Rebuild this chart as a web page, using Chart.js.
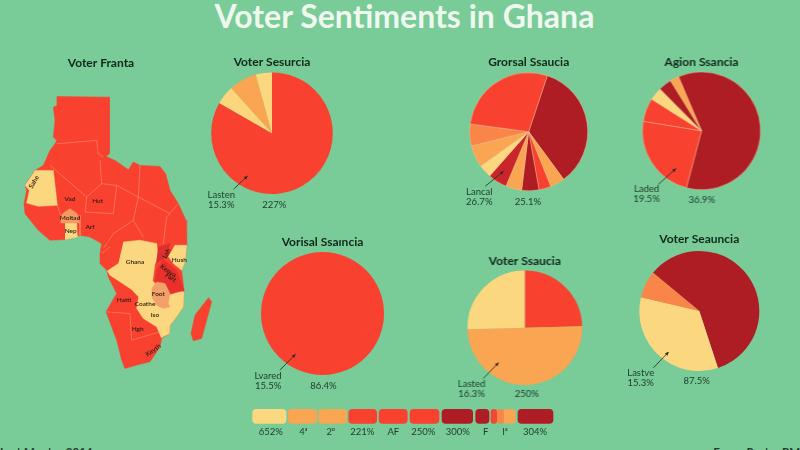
<!DOCTYPE html>
<html>
<head>
<meta charset="utf-8">
<title>Voter Sentiments in Ghana</title>
<script src="https://cdn.jsdelivr.net/npm/chart.js@4/dist/chart.umd.min.js"></script>
<style>
html, body { margin: 0; padding: 0; width: 800px; height: 450px; overflow: hidden; background: #79cb97; }
body { position: relative; font-family: Lato, "Open Sans", sans-serif; }
.box { position: absolute; }
#mainTitle { position: absolute; left: 0; width: 809px; top: -4px; text-align: center; font: 700 32px Lato, sans-serif; color: #eef8ef; white-space: nowrap; }
.foot { position: absolute; top: 445px; font: 700 11.5px Lato, sans-serif; color: #1b3d2b; white-space: nowrap; }
</style>
</head>
<body>
<div id="mainTitle">Voter Sentiments in Ghana</div>
<div class="foot" style="left:0">Last Montes 2014</div>
<div class="foot" style="right:0">Fanne Raster PM</div>
<script>
var yellow = '#fbd880', orange = '#faa552', coral = '#f98548', red = '#f94130', darkRed = '#ae1c24';
var ink = '#1d4030', titleInk = '#10281b';

// pie values, in percent
var pie1Values = [83.3, 5, 7.4, 4.3];
var pie2Values = [34.8, 4, 3.3, 4.7, 4.4, 5.2, 3.6, 6, 6, 28];
var pie3Values = [60.5, 23.5, 6.4, 3.6, 3.6, 2.4];
var pie4Values = [100];
var pie5Values = [24.6, 50, 25.4];
var pie6Values = [59, 33.7, 7.3];

var pie1Colors = [red, '#fbd67c', orange, yellow];
var pie2Colors = [darkRed, orange, red, darkRed, orange, '#c9252a', yellow, orange, coral, red];
var pie3Colors = [darkRed, red, red, yellow, darkRed, orange];
var pie4Colors = [red];
var pie5Colors = [red, orange, yellow];
var pie6Colors = [darkRed, yellow, coral];

var pieTitles = ['Voter Sesurcia', 'Grorsal Ssaucia', 'Agion Ssancia', 'Vorisal Ssaıncia', 'Voter Ssaucia', 'Voter Seauncia'];
var pieNames = ['Lasten', 'Lancal', 'Laded', 'Lvared', 'Lasted', 'Lastve'];
var pieShares = ['15.3%', '26.7%', '19.5%', '15.5%', '16.3%', '15.3%'];
var pieTotals = ['227%', '25.1%', '36.9%', '86.4%', '250%', '87.5%'];
var pieRotations = [0, 18.4, 337, 0, 0, 309.5];

// where each pie and its callout sit on the page
var pieLayout = [
    { cx: 271.7, cy: 133.5, r: 61, titleX: 271.7, titleY: 62.3, nameX: 221, nameY: 195.3, totalX: 274, totalY: 205.3, arrow: [233.3, 189.3, 247.3, 176] },
    { cx: 528.7, cy: 131.5, r: 59.3, titleX: 527, titleY: 62, nameX: 479, nameY: 191.7, totalX: 527.7, totalY: 201.7, arrow: [485, 186, 503.3, 171] },
    { cx: 701.7, cy: 130.8, r: 59.3, titleX: 700.7, titleY: 62, nameX: 646.7, nameY: 188.3, totalX: 701.7, totalY: 199.3, arrow: [658.3, 184.3, 676, 168.3] },
    { cx: 322.7, cy: 313.3, r: 61.5, titleX: 320.7, titleY: 242, nameX: 268.3, nameY: 376, totalX: 323.7, totalY: 385.3, arrow: [280, 370, 295.7, 354] },
    { cx: 525, cy: 327.7, r: 57.3, titleX: 525.7, titleY: 261, nameX: 471.7, nameY: 383.3, totalX: 526.7, totalY: 393.7, arrow: [483.3, 378.3, 498.7, 362.3] },
    { cx: 699.3, cy: 310.8, r: 60, titleX: 697, titleY: 239, nameX: 640.7, nameY: 372.7, totalX: 696.7, totalY: 381, arrow: [653.3, 367.7, 668.7, 351.7] }
];

// legend strip: each swatch runs from start to end along the strip
var legendStarts = [22.7, 58.3, 88.7, 118.7, 149, 180, 212, 245.7, 261, 267.3, 273.5, 288];
var legendEnds = [56, 86.7, 116.7, 146.7, 177.3, 209, 242.7, 259, 266.7, 273.5, 285.3, 323];
var legendColors = [yellow, orange, orange, red, red, red, darkRed, darkRed, '#ee4a33', coral, orange, darkRed];
var legendLabels = ['652%', '4ᵃ', '2ᵖ', '221%', 'AF', '250%', '300%', 'F', 'Iᵃ', '304%'];
var legendTickAt = [40.7, 73.3, 100.7, 132.3, 163.3, 193.3, 227.7, 255.7, 275, 305];

// map regions
var mainland = [[170,168],[328,170],[328,340],[318,348],[345,360],[385,388],[400,365],[420,375],[480,378],[497,400],[510,450],[535,490],[558,540],[560,615],[555,665],[545,690],[552,750],[550,800],[530,830],[510,855],[508,880],[485,895],[480,920],[450,965],[410,975],[375,985],[365,960],[350,900],[318,815],[350,760],[325,710],[320,690],[300,670],[300,640],[305,610],[270,590],[240,585],[195,598],[150,600],[115,570],[75,520],[72,490],[80,450],[75,435],[105,390],[130,375],[150,330],[165,310],[170,300],[160,290],[165,240],[160,200],[170,195]];
var madagascar = [[625,772],[635,785],[620,840],[605,895],[580,902],[573,880],[585,825],[600,805]];
var westPatch = [[105,390],[160,390],[172,495],[115,498],[80,488],[88,450],[75,435]];
var beninPatch = [[195,548],[230,548],[232,590],[195,598]];
var burkinaPatch = [[182,530],[190,518],[210,505],[232,520],[238,548],[182,548]];
var ghanaPatch = [[370,605],[420,600],[470,610],[475,660],[465,670],[458,722],[480,745],[552,755],[550,800],[530,830],[510,855],[508,880],[484,893],[470,860],[430,835],[410,805],[416,770],[395,748],[330,705],[322,692],[355,670]];
var eastPatch = [[505,650],[525,615],[560,615],[555,665],[545,690],[520,670]];
var tanzaniaPatch = [[470,690],[490,658],[530,690],[552,750],[510,762],[480,745],[465,720]];
var lakePatch = [[475,620],[510,610],[500,650],[490,656],[468,668]];
var footPatch = [[455,745],[470,725],[495,730],[510,760],[505,790],[510,800],[490,805],[470,795],[455,770]];

var mapShapes = [footPatch, lakePatch, tanzaniaPatch, eastPatch, ghanaPatch, burkinaPatch, beninPatch, westPatch, madagascar, mainland];
var mapShapeColors = ['#f3a06a', '#dc2f2e', '#e8302d', yellow, yellow, '#f59a60', yellow, yellow, red, red];

var borderLines = [
    [[170,310],[290,300],[295,340],[310,350]],
    [[150,375],[260,470]],
    [[300,360],[305,430],[260,470]],
    [[260,470],[255,515],[340,520]],
    [[350,435],[345,480],[340,520]],
    [[305,430],[350,435],[415,470],[420,375]],
    [[415,470],[400,540],[430,590]],
    [[400,540],[340,580],[310,625]],
    [[240,525],[240,585]],
    [[172,495],[182,525]],
    [[490,610],[500,530],[535,490]],
    [[415,470],[510,520]],
    [[318,815],[390,820],[395,900]],
    [[395,900],[480,875]],
    [[330,620],[305,640]]
];

var mapLabels = ['Sahe', 'Vad', 'Hut', 'Moltad', 'Nep', 'Arf', 'Ghana', 'Hatti', 'Coathe', 'Foot', 'Iso', 'Hgh', 'Keyth', 'Lah', 'Hush', 'Kenya', 'Fart'];
var mapLabelX = [102, 210, 293, 210, 212, 270, 405, 372, 435, 475, 465, 413, 460, 500, 538, 505, 512];
var mapLabelY = [425, 475, 483, 533, 573, 560, 665, 778, 790, 760, 823, 866, 930, 640, 660, 692, 712];
var mapLabelAngle = [-60, 0, 0, 0, 0, 0, 0, 0, 0, 0, 0, 0, -35, -60, 0, 35, 35];

function addCanvas(left, top, w, h) {
    var c = document.createElement('canvas');
    c.className = 'box';
    c.style.left = left + 'px';
    c.style.top = top + 'px';
    c.style.width = w + 'px';
    c.style.height = h + 'px';
    c.width = w;
    c.height = h;
    document.body.appendChild(c);
    return c.getContext('2d');
}

function makePie(values, colors, i) {
    var p = pieLayout[i];
    var halfW = p.r + 110;
    var top = p.titleY - 10.2;
    var left = p.titleX - halfW;
    var height = p.cy + p.r + 32 - top;
    var d = p.cx - p.titleX;

    var callout = {
        id: 'callout',
        afterDraw: function (chart) {
            var ctx = chart.ctx;
            ctx.save();
            ctx.fillStyle = ink;
            ctx.font = '9.5px Lato, sans-serif';
            ctx.textAlign = 'center';
            ctx.textBaseline = 'middle';
            ctx.fillText(pieNames[i], p.nameX - left, p.nameY - top);
            ctx.fillText(pieShares[i], p.nameX - left, p.nameY + 10 - top);
            ctx.fillText(pieTotals[i], p.totalX - left, p.totalY - top);

            var x1 = p.arrow[0] - left, y1 = p.arrow[1] - top, x2 = p.arrow[2] - left, y2 = p.arrow[3] - top;
            var a = Math.atan2(y2 - y1, x2 - x1);
            ctx.strokeStyle = '#2a2a22';
            ctx.fillStyle = '#2a2a22';
            ctx.lineWidth = 0.8;
            ctx.beginPath();
            ctx.moveTo(x1, y1);
            ctx.lineTo(x2, y2);
            ctx.stroke();
            ctx.beginPath();
            ctx.moveTo(x2, y2);
            ctx.lineTo(x2 - 4 * Math.cos(a - 0.45), y2 - 4 * Math.sin(a - 0.45));
            ctx.lineTo(x2 - 4 * Math.cos(a + 0.45), y2 - 4 * Math.sin(a + 0.45));
            ctx.closePath();
            ctx.fill();
            ctx.restore();
        }
    };

    var hasSeams = values.length > 4;
    return new Chart(addCanvas(left, top, halfW * 2, height), {
        type: 'pie',
        data: {
            labels: values.map(function (v, k) { return pieNames[i] + ' ' + (k + 1); }),
            datasets: [{
                data: values,
                backgroundColor: colors,
                borderWidth: hasSeams ? 0.6 : 0,
                borderColor: 'rgba(255,190,150,0.7)'
            }]
        },
        options: {
            responsive: false,
            animation: false,
            rotation: pieRotations[i],
            layout: { padding: { left: Math.max(0, 2 * d), right: Math.max(0, -2 * d), bottom: 32 } },
            plugins: {
                legend: { display: false },
                tooltip: { enabled: false },
                title: {
                    display: true,
                    text: pieTitles[i],
                    color: titleInk,
                    font: { family: 'Lato, sans-serif', size: 12, weight: 'bold', lineHeight: 1.2 },
                    padding: { top: 3, bottom: p.cy - p.r - top - 17.4 }
                }
            }
        },
        plugins: [callout]
    });
}

var pieValues = [pie1Values, pie2Values, pie3Values, pie4Values, pie5Values, pie6Values];
var pieColors = [pie1Colors, pie2Colors, pie3Colors, pie4Colors, pie5Colors, pie6Colors];
pieValues.forEach(function (values, i) {
    makePie(values, pieColors[i], i);
});

// the map is a scatter chart with closed, filled shapes
function toPoints(shape) {
    return shape.map(function (pt) { return { x: pt[0], y: pt[1] }; });
}

var mapDatasets = [];
borderLines.forEach(function (line) {
    mapDatasets.push({ data: toPoints(line), showLine: true, fill: false, borderColor: 'rgba(255,170,110,0.65)', borderWidth: 0.7, pointRadius: 0 });
});
mapShapes.forEach(function (shape, i) {
    mapDatasets.push({ data: toPoints(shape), showLine: true, fill: 'shape', backgroundColor: mapShapeColors[i], borderColor: mapShapeColors[i], borderWidth: 0.5, pointRadius: 0 });
});

var mapText = {
    id: 'mapText',
    afterDraw: function (chart) {
        var ctx = chart.ctx;
        ctx.save();
        ctx.fillStyle = '#2b1a10';
        ctx.font = '600 6.5px Lato, sans-serif';
        ctx.textAlign = 'center';
        ctx.textBaseline = 'middle';
        mapLabels.forEach(function (label, i) {
            ctx.save();
            ctx.translate(chart.scales.x.getPixelForValue(mapLabelX[i]), chart.scales.y.getPixelForValue(mapLabelY[i]));
            ctx.rotate(mapLabelAngle[i] * Math.PI / 180);
            ctx.fillText(label, 0, 0);
            ctx.restore();
        });
        ctx.restore();
    }
};

new Chart(addCanvas(-19, 52.5, 240, 397.5), {
    type: 'scatter',
    data: { datasets: mapDatasets },
    options: {
        responsive: false,
        animation: false,
        scales: {
            x: { display: false, min: -57, max: 663 },
            y: { display: false, min: 127.5, max: 1230, reverse: true }
        },
        plugins: {
            legend: { display: false },
            tooltip: { enabled: false },
            title: {
                display: true,
                text: 'Voter Franta',
                color: titleInk,
                font: { family: 'Lato, sans-serif', size: 12, weight: 'bold', lineHeight: 1.2 },
                padding: { top: 3, bottom: 12.6 }
            }
        }
    },
    plugins: [mapText]
});

// legend strip
new Chart(addCanvas(230, 408, 340, 32), {
    type: 'bar',
    data: {
        labels: ['Share'],
        datasets: legendStarts.map(function (start, i) {
            return {
                data: [[start, legendEnds[i]]],
                backgroundColor: legendColors[i],
                borderRadius: 4,
                borderSkipped: false,
                grouped: false,
                barThickness: 14
            };
        })
    },
    options: {
        indexAxis: 'y',
        responsive: false,
        animation: false,
        scales: {
            x: {
                min: 0,
                max: 340,
                grid: { display: false, drawTicks: false },
                border: { display: false },
                afterBuildTicks: function (axis) {
                    axis.ticks = legendTickAt.map(function (v) { return { value: v }; });
                },
                ticks: {
                    autoSkip: false,
                    maxRotation: 0,
                    color: ink,
                    padding: 2,
                    font: { family: 'Lato, sans-serif', size: 9.5 },
                    callback: function (value, index) { return legendLabels[index]; }
                }
            },
            y: { display: false }
        },
        plugins: { legend: { display: false }, tooltip: { enabled: false } }
    }
});
</script>
</body>
</html>
